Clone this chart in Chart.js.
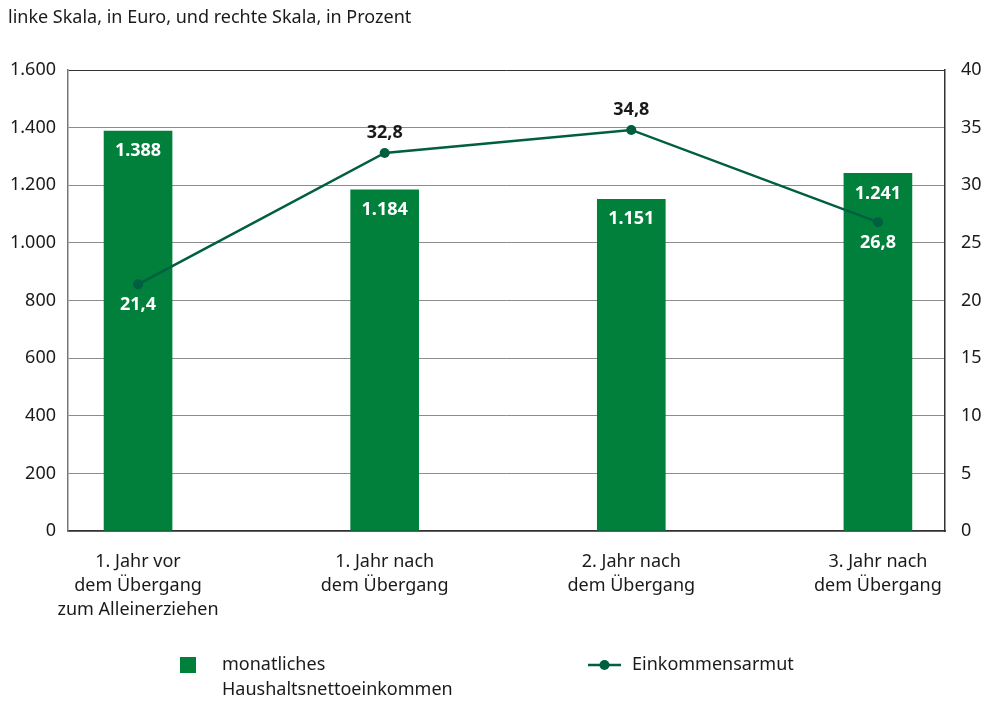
<!DOCTYPE html>
<html>
<head>
<meta charset="utf-8">
<script src="https://cdn.jsdelivr.net/npm/chart.js@4/dist/chart.umd.min.js"></script>
<style>
  html, body { margin: 0; padding: 0; background: #fff; }
  #wrap { width: 989px; height: 703px; }
</style>
</head>
<body>
<div id="wrap"><canvas id="chart" width="989" height="703"></canvas></div>
<script>
var title_text = 'linke Skala, in Euro, und rechte Skala, in Prozent';

var categories = [
	['1. Jahr vor', 'dem Übergang', 'zum Alleinerziehen'],
	['1. Jahr nach', 'dem Übergang'],
	['2. Jahr nach', 'dem Übergang'],
	['3. Jahr nach', 'dem Übergang']
];

var income_label = ['monatliches', 'Haushaltsnettoeinkommen'];
var income = [1388, 1184, 1151, 1241];

var poverty_label = 'Einkommensarmut';
var poverty = [21.4, 32.8, 34.8, 26.8];

var bar_color  = '#00803a';
var line_color = '#005e41';
var text_color = '#1a1a1a';
var font_family = '"Noto Sans", sans-serif';
var font_size = 18;

function fmt_de(v, digits) {
	var s = v.toFixed(digits);
	var parts = s.split('.');
	parts[0] = parts[0].replace(/\B(?=(\d{3})+(?!\d))/g, '.');
	return parts.join(',');
}

var income_points = income.map(function(v, i) { return {x: i, y: v}; });
var poverty_points = poverty.map(function(v, i) { return {x: i, y: v}; });

var extras = {
	id: 'extras',
	afterDatasetsDraw: function(chart) {
		var ctx = chart.ctx;
		var bars = chart.getDatasetMeta(1).data;
		var pts = chart.getDatasetMeta(0).data;

		ctx.save();
		ctx.textAlign = 'center';
		ctx.textBaseline = 'middle';
		ctx.font = 'bold ' + font_size + 'px ' + font_family;

		// bar values
		ctx.fillStyle = '#ffffff';
		for (var i = 0; i < bars.length; i++) {
			ctx.fillText(fmt_de(income[i], 0), bars[i].x, bars[i].y + 20);
		}

		// line values: inside the bar -> white below, otherwise black above
		for (var j = 0; j < pts.length; j++) {
			var inside = pts[j].y > bars[j].y + 30;
			if (inside) {
				ctx.fillStyle = '#ffffff';
				ctx.fillText(fmt_de(poverty[j], 1), pts[j].x, pts[j].y + 21);
			} else {
				ctx.fillStyle = text_color;
				ctx.fillText(fmt_de(poverty[j], 1), pts[j].x, pts[j].y - 20);
			}
		}
		ctx.restore();
	},
	afterDraw: function(chart) {
		var ctx = chart.ctx;
		ctx.save();
		ctx.font = font_size + 'px ' + font_family;
		ctx.fillStyle = text_color;
		ctx.textAlign = 'left';
		ctx.textBaseline = 'middle';
		ctx.fillText(title_text, 8, 18);

		// legend
		ctx.fillStyle = bar_color;
		ctx.fillRect(180, 657, 16, 16);
		ctx.fillStyle = text_color;
		ctx.fillText(income_label[0], 222, 665);
		ctx.fillText(income_label[1], 222, 690);

		ctx.strokeStyle = line_color;
		ctx.lineWidth = 2.5;
		ctx.beginPath();
		ctx.moveTo(588, 665);
		ctx.lineTo(621, 665);
		ctx.stroke();
		ctx.fillStyle = line_color;
		ctx.beginPath();
		ctx.arc(604.5, 665, 5, 0, Math.PI * 2);
		ctx.fill();
		ctx.fillStyle = text_color;
		ctx.fillText(poverty_label, 632, 665);
		ctx.restore();
	}
};

var chart = new Chart(document.getElementById('chart'), {
	type: 'bar',
	data: {
		datasets: [{
			type: 'line',
			label: poverty_label,
			data: poverty_points,
			yAxisID: 'y2',
			borderColor: line_color,
			backgroundColor: line_color,
			borderWidth: 2.5,
			pointRadius: 5,
			pointBackgroundColor: line_color,
			pointBorderWidth: 0,
			tension: 0,
			order: 0
		}, {
			type: 'bar',
			label: income_label.join(' '),
			data: income_points,
			yAxisID: 'y',
			backgroundColor: bar_color,
			barThickness: 68,
			order: 1
		}]
	},
	options: {
		responsive: false,
		animation: false,
		layout: { padding: { top: 70, left: 0, right: 0, bottom: 0 } },
		plugins: {
			legend: { display: false },
			tooltip: { enabled: false }
		},
		scales: {
			x: {
				type: 'linear',
				offset: false,
				min: -0.284,
				max: 3.272,
				afterBuildTicks: function(scale) {
					scale.ticks = categories.map(function(c, i) { return {value: i}; });
				},
				afterFit: function(scale) { scale.height = 172; },
				grid: { display: false },
				border: { display: true, color: '#333', width: 1.5 },
				ticks: {
					padding: 11,
					maxRotation: 0,
					autoSkip: false,
					color: text_color,
					font: { family: font_family, size: font_size, lineHeight: 1.33 },
					callback: function(value) { return categories[value]; }
				}
			},
			y: {
				position: 'left',
				min: 0,
				max: 1600,
				afterFit: function(scale) { scale.width = 68; },
				grid: {
					color: function(c) { return c.tick.value == 1600 ? '#333' : '#8c8c8c'; },
					lineWidth: 1,
					drawTicks: false
				},
				border: { display: true, color: '#777', width: 1.5 },
				ticks: {
					stepSize: 200,
					padding: 12,
					color: text_color,
					font: { family: font_family, size: font_size },
					callback: function(value) { return fmt_de(value, 0); }
				}
			},
			y2: {
				position: 'right',
				min: 0,
				max: 40,
				afterFit: function(scale) { scale.width = 44; },
				grid: { display: false, drawTicks: false },
				border: { display: true, color: '#333', width: 1.5 },
				ticks: {
					stepSize: 5,
					padding: 16,
					color: text_color,
					font: { family: font_family, size: font_size }
				}
			}
		}
	},
	plugins: [extras]
});
</script>
</body>
</html>
